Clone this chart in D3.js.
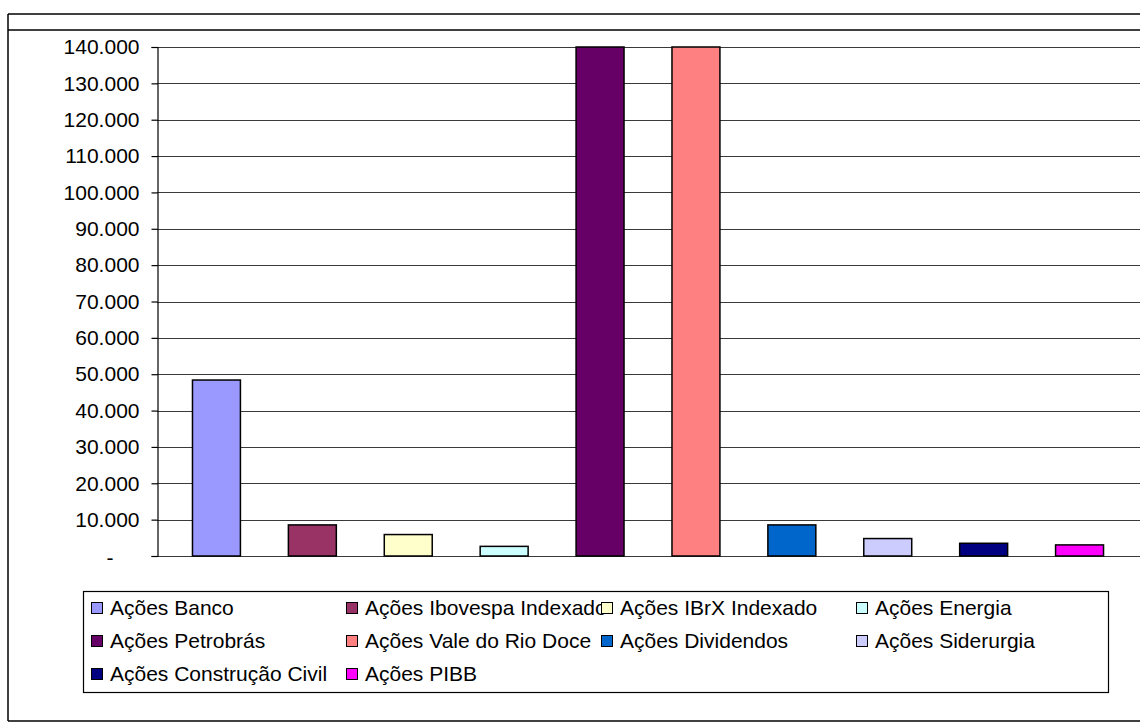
<!DOCTYPE html>
<html>
<head>
<meta charset="utf-8">
<script src="https://cdn.jsdelivr.net/npm/d3@7"></script>
<style>
  body { margin: 0; background: #fff; }
  svg text { font-family: Arial, "Liberation Sans", sans-serif; fill: #000; }
</style>
</head>
<body>
<svg id="chart" width="1140" height="725"></svg>
<script>
// series (one bar per fund)
const categories = [
  "Ações Banco", "Ações Ibovespa Indexado", "Ações IBrX Indexado", "Ações Energia",
  "Ações Petrobrás", "Ações Vale do Rio Doce", "Ações Dividendos", "Ações Siderurgia",
  "Ações Construção Civil", "Ações PIBB"
];
const values = [48400, 8550, 5900, 2650, 140000, 140000, 8550, 4800, 3500, 3050];
const colors = [
  "#9999FF", "#993366", "#FFFFCC", "#CCFFFF", "#660066",
  "#FF8080", "#0066CC", "#CCCCFF", "#000080", "#FF00FF"
];
const yTicks = [0, 10000, 20000, 30000, 40000, 50000, 60000, 70000,
  80000, 90000, 100000, 110000, 120000, 130000, 140000];

const W = 1140, H = 725;
const svg = d3.select("#chart");

// frame lines (right edge is cut off in the original)
const frame = svg.append("g").attr("stroke", "#000").attr("stroke-width", 1.5);
frame.append("line").attr("x1", 8).attr("x2", W).attr("y1", 14).attr("y2", 14);
frame.append("line").attr("x1", 8).attr("x2", W).attr("y1", 30).attr("y2", 30);
frame.append("line").attr("x1", 8).attr("x2", W).attr("y1", 721).attr("y2", 721);
frame.append("line").attr("x1", 8).attr("x2", 8).attr("y1", 14).attr("y2", 721);

const plotLeft = 157;
const y = d3.scaleLinear().domain([0, 140000]).range([556, 47]);
const x = d3.scaleBand()
  .domain(categories)
  .range([168.5, 1127.5])
  .paddingInner(0.5)
  .paddingOuter(0.25);

const br = d3.formatLocale({ decimal: ",", thousands: ".", grouping: [3], currency: ["R$", ""] });
const fmt = br.format(",.0f");

// gridlines
svg.append("g")
  .selectAll("line")
  .data(yTicks)
  .join("line")
  .attr("x1", plotLeft)
  .attr("x2", W)
  .attr("y1", d => Math.round(y(d)) + 0.5)
  .attr("y2", d => Math.round(y(d)) + 0.5)
  .attr("stroke", "#3a3a3a")
  .attr("stroke-width", 1.2);

// bars
svg.append("g")
  .selectAll("rect")
  .data(categories)
  .join("rect")
  .attr("x", d => x(d))
  .attr("width", x.bandwidth())
  .attr("y", (d, i) => y(values[i]))
  .attr("height", (d, i) => y(0) - y(values[i]))
  .attr("fill", (d, i) => colors[i])
  .attr("stroke", "#000")
  .attr("stroke-width", 1.5);

// y axis
const yAxis = svg.append("g")
  .attr("transform", `translate(${plotLeft + 0.5},0)`)
  .call(d3.axisLeft(y).tickValues(yTicks).tickSize(6).tickPadding(12)
    .tickFormat(d => d === 0 ? "" : fmt(d)));
yAxis.select(".domain").attr("stroke", "#000").attr("stroke-width", 1.2);
yAxis.selectAll(".tick line").attr("stroke", "#000").attr("stroke-width", 1.2);
yAxis.selectAll(".tick text")
  .attr("font-size", 21)
  .attr("font-family", "Arial, 'Liberation Sans', sans-serif")
  .attr("fill", "#000");

// zero label shown as a dash (accounting format)
svg.append("text")
  .attr("x", 110)
  .attr("y", y(0) + 2)
  .attr("dy", "0.35em")
  .attr("text-anchor", "middle")
  .attr("font-size", 21)
  .text("-");

// legend
const legend = svg.append("g");
legend.append("rect")
  .attr("x", 83.5).attr("y", 591.5)
  .attr("width", 1025).attr("height", 101)
  .attr("fill", "#fff")
  .attr("stroke", "#000")
  .attr("stroke-width", 1.2);

const colStep = 255, rowStep = 33;
const items = legend.selectAll("g.item")
  .data(categories)
  .join("g")
  .attr("class", "item")
  .attr("transform", (d, i) => `translate(${91 + (i % 4) * colStep},${608 + Math.floor(i / 4) * rowStep})`);

items.append("text")
  .attr("x", 19)
  .attr("dy", "0.35em")
  .attr("font-size", 21)
  .text(d => d);

items.append("rect")
  .attr("x", 0.5).attr("y", -5.5)
  .attr("width", 11).attr("height", 11)
  .attr("fill", (d, i) => colors[i])
  .attr("stroke", "#000")
  .attr("stroke-width", 1);
</script>
</body>
</html>
